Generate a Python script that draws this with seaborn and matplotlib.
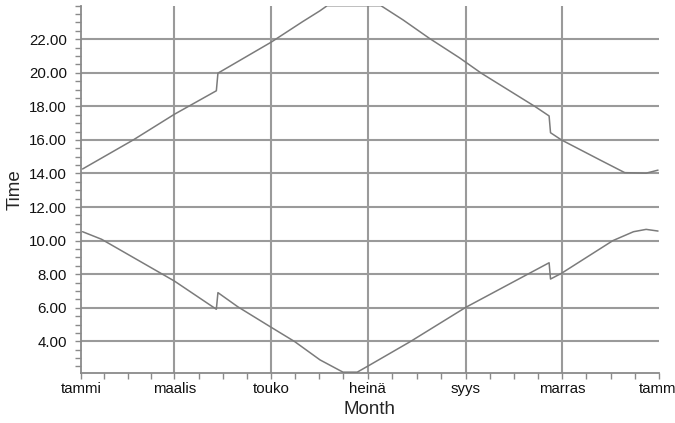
import numpy as np
import pandas as pd
import seaborn as sns
import matplotlib.pyplot as plt
from matplotlib.ticker import FixedLocator

# month axis (day of year), labels in Finnish
month_days = [0, 59, 120, 181, 243, 304, 365]
month_labels = ['tammi', 'maalis', 'touko', 'heinä', 'syys', 'marras', 'tammi']

# sunset, hours
sunset_day = [1, 33, 59, 85.5, 86.5, 120, 140, 151, 155.5, 189.5, 203.5, 220,
              239, 253, 287, 295.7, 296.6, 303.5, 328, 343.5, 357, 364.5]
sunset_time = [14.27, 16.0, 17.53, 18.93, 19.98, 21.82, 23.05, 23.7, 24.0, 24.0, 23.15, 22.06,
               20.9, 19.97, 17.98, 17.43, 16.43, 16.0, 14.8, 14.05, 14.02, 14.2]

# sunrise, hours
sunrise_day = [1, 13, 59, 85.5, 86.5, 99, 119.5, 135, 151, 165.5, 174.5, 182.5,
               208, 243, 295.7, 296.6, 303.5, 336, 349, 357, 364.5]
sunrise_time = [10.53, 10.08, 7.59, 5.91, 6.9, 6.06, 4.87, 3.98, 2.89, 2.16, 2.16, 2.59,
                3.98, 6.02, 8.68, 7.71, 8.05, 10.0, 10.53, 10.67, 10.57]

y_major = [4, 6, 8, 10, 12, 14, 16, 18, 20, 22]

sns.set_style('white')
plt.rcParams['font.family'] = ['Liberation Sans', 'DejaVu Sans']

fig = plt.figure(figsize=(6.75, 4.23), dpi=100)
ax = fig.add_axes([0.12, 0.119, 0.856, 0.8675])

grid_c = '#9a9a9a'
for d in month_days[1:-1]:
    ax.axvline(d, color=grid_c, lw=1.5, zorder=1)
for v in y_major:
    ax.axhline(v, color=grid_c, lw=1.5, zorder=1)

line_c = '#7b7b7b'
sns.lineplot(x=sunset_day, y=sunset_time, ax=ax, color=line_c, lw=1.1, zorder=3)
sns.lineplot(x=sunrise_day, y=sunrise_time, ax=ax, color=line_c, lw=1.1, zorder=3)

ax.set_xlim(0, 365)
ax.set_ylim(2.13, 24)

ax.set_xticks(month_days)
ax.set_xticklabels(month_labels)
minor_x = []
for a, b in zip(month_days[:-1], month_days[1:]):
    minor_x += [a + (b - a) * k / 4 for k in (1, 2, 3)]
ax.xaxis.set_minor_locator(FixedLocator(minor_x))

ax.set_yticks(y_major)
ax.set_yticklabels(['%.2f' % v for v in y_major])
ax.yaxis.set_minor_locator(FixedLocator(np.arange(2.5, 24.01, 0.5)))

for s in ['top', 'right']:
    ax.spines[s].set_visible(False)
for s in ['left', 'bottom']:
    ax.spines[s].set_color('#8a8a8a')
    ax.spines[s].set_linewidth(1.3)

ax.tick_params(which='both', direction='out', length=4, width=1, color='#8a8a8a',
               left=True, bottom=True)
ax.tick_params(axis='both', which='major', labelsize=10.8, labelcolor='#111111')
ax.tick_params(axis='x', which='major', pad=3)
ax.tick_params(axis='y', which='major', pad=6)

ax.set_xlabel('Month', fontsize=13.5, labelpad=3)
ax.set_ylabel('Time', fontsize=13.5, labelpad=4)

fig.savefig('out.png', dpi=100)
